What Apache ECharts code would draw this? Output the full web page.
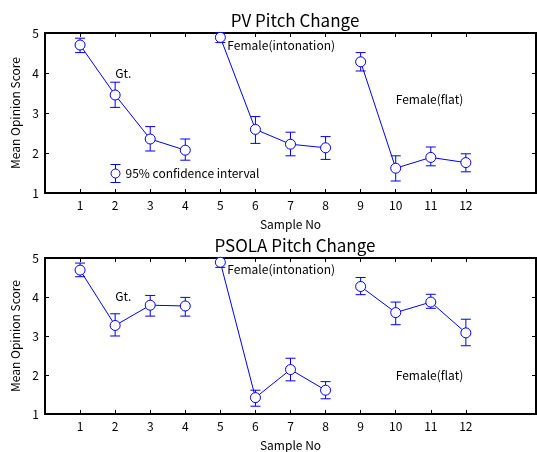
<!DOCTYPE html>
<html>
<head>
<meta charset="utf-8">
<script src="https://cdn.jsdelivr.net/npm/echarts@6/dist/echarts.min.js"></script>
<style>
  html, body { margin: 0; padding: 0; background: #fff; }
  #chart { width: 537px; height: 452px; }
</style>
</head>
<body>
<div id="chart"></div>
<script>
// x categories 0..14, only 1..12 are labelled
const categories = ['0', '1', '2', '3', '4', '5', '6', '7', '8', '9', '10', '11', '12', '13', '14']
const groups = [[1, 2, 3, 4], [5, 6, 7, 8], [9, 10, 11, 12]]

// PV Pitch Change
const pvMean = [4.70, 3.45, 2.35, 2.07, 4.89, 2.59, 2.22, 2.13, 4.28, 1.62, 1.89, 1.76]
const pvLow  = [4.51, 3.14, 2.05, 1.82, 4.76, 2.24, 1.93, 1.84, 4.05, 1.30, 1.68, 1.53]
const pvHigh = [4.87, 3.77, 2.66, 2.35, 5.00, 2.91, 2.52, 2.41, 4.51, 1.93, 2.15, 1.98]

// PSOLA Pitch Change
const psMean = [4.69, 3.27, 3.79, 3.77, 4.89, 1.42, 2.14, 1.61, 4.27, 3.60, 3.87, 3.08]
const psLow  = [4.52, 3.00, 3.51, 3.51, 4.76, 1.20, 1.85, 1.39, 4.06, 3.29, 3.71, 2.75]
const psHigh = [4.87, 3.57, 4.04, 3.99, 5.00, 1.61, 2.43, 1.83, 4.50, 3.87, 4.07, 3.43]

// annotations: [text, x, y]
const pvNotes = [['Gt.', 2, 4.0], ['Female(intonation)', 5.2, 4.7], ['Female(flat)', 10.0, 3.35]]
const psNotes = [['Gt.', 2, 4.02], ['Female(intonation)', 5.2, 4.7], ['Female(flat)', 10.0, 1.98]]

const titles = ['PV Pitch Change', 'PSOLA Pitch Change']
const ciName = '95% confidence interval'

const BLUE = '#0000ff'
const FONT = 'Noto Sans CJK JP'

const chart = echarts.init(document.getElementById('chart'), null, { renderer: 'canvas' })

const showIdx = (idx) => idx >= 1 && idx <= 12

const makeX = (gi, pos) => ({
  type: 'category',
  gridIndex: gi,
  position: pos,
  data: categories,
  boundaryGap: false,
  axisLine: { show: false },
  axisTick: { show: true, inside: true, length: 4, interval: (i) => showIdx(i), lineStyle: { color: '#000' } },
  axisLabel: {
    show: pos === 'bottom',
    interval: (i) => showIdx(i),
    color: '#000', fontSize: 12, fontFamily: FONT, margin: 6
  },
  splitLine: { show: false },
  name: pos === 'bottom' ? 'Sample No' : '',
  nameLocation: 'middle',
  nameGap: 25,
  nameTextStyle: { color: '#000', fontSize: 12, fontFamily: FONT }
})

// hidden value axis used to place free text at fractional x
const makeNoteX = (gi) => ({
  type: 'value', gridIndex: gi, min: 0, max: 14, show: false
})

const makeY = (gi, pos) => ({
  type: 'value',
  gridIndex: gi,
  position: pos,
  min: 1, max: 5, interval: 1,
  axisLine: { show: false },
  axisTick: { show: true, inside: true, length: 4, lineStyle: { color: '#000' } },
  axisLabel: { show: pos === 'left', color: '#000', fontSize: 12, fontFamily: FONT, margin: 6 },
  splitLine: { show: false },
  name: pos === 'left' ? 'Mean Opinion Score' : '',
  nameLocation: 'middle',
  nameGap: 16,
  nameTextStyle: { color: '#000', fontSize: 12, fontFamily: FONT }
})

const errorSeries = (gi, mean, low, high) => ({
  name: ciName,
  type: 'custom',
  xAxisIndex: gi * 2,
  yAxisIndex: gi * 2,
  itemStyle: { color: BLUE },
  data: mean.map((m, i) => [i + 1, low[i], high[i]]),
  renderItem: (params, api) => {
    const x = api.value(0)
    const lo = api.coord([x, api.value(1)])
    const hi = api.coord([x, api.value(2)])
    const w = 5
    const style = { stroke: BLUE, lineWidth: 1 }
    return {
      type: 'group',
      children: [
        { type: 'line', shape: { x1: lo[0], y1: lo[1], x2: hi[0], y2: hi[1] }, style },
        { type: 'line', shape: { x1: lo[0] - w, y1: lo[1], x2: lo[0] + w, y2: lo[1] }, style },
        { type: 'line', shape: { x1: hi[0] - w, y1: hi[1], x2: hi[0] + w, y2: hi[1] }, style }
      ]
    }
  },
  z: 2
})

const lineSeries = (gi, mean) => groups.map(g => ({
  type: 'line',
  xAxisIndex: gi * 2,
  yAxisIndex: gi * 2,
  data: g.map(x => [x, mean[x - 1]]),
  symbol: 'circle',
  symbolSize: 10,
  itemStyle: { color: '#fff', borderColor: BLUE, borderWidth: 1 },
  lineStyle: { color: BLUE, width: 1 },
  emphasis: { disabled: true },
  animation: false,
  z: 3
}))

const noteSeries = (gi, notes) => ({
  type: 'scatter',
  xAxisIndex: 4 + gi,
  yAxisIndex: gi * 2,
  symbolSize: 0,
  itemStyle: { opacity: 1 },
  data: notes.map(n => ({ value: [n[1], n[2]], label: { formatter: n[0] } })),
  label: {
    show: true, position: 'right', distance: 0,
    color: '#000', fontSize: 12, fontFamily: FONT, opacity: 1
  },
  silent: true,
  z: 4
})

const option = {
  animation: false,
  backgroundColor: '#fff',
  title: titles.map((t, i) => ({
    text: t,
    left: 290,
    textAlign: 'center',
    top: i === 0 ? 7 : 232,
    textStyle: { color: '#000', fontSize: 17, fontWeight: 'normal', fontFamily: FONT }
  })),
  legend: {
    data: [{
      name: ciName,
      icon: 'path://M0,0 H10 M0,18 H10 M5,0 V4.5 M5,13.5 V18 M9.5,9 A4.5,4.5 0 1,1 0.5,9 A4.5,4.5 0 1,1 9.5,9'
    }],
    left: 105,
    top: 159,
    itemWidth: 10,
    itemHeight: 18,
    itemStyle: { color: 'transparent', borderColor: BLUE, borderWidth: 1 },
    textStyle: { color: '#000', fontSize: 12, fontFamily: FONT },
    selectedMode: false
  },
  grid: [
    { left: 45, top: 33, width: 491, height: 160, show: true, borderColor: '#000', borderWidth: 2 },
    { left: 45, top: 258, width: 491, height: 160, show: true, borderColor: '#000', borderWidth: 2 }
  ],
  xAxis: [makeX(0, 'bottom'), makeX(0, 'top'), makeX(1, 'bottom'), makeX(1, 'top'), makeNoteX(0), makeNoteX(1)],
  yAxis: [makeY(0, 'left'), makeY(0, 'right'), makeY(1, 'left'), makeY(1, 'right')],
  series: [
    errorSeries(0, pvMean, pvLow, pvHigh),
    ...lineSeries(0, pvMean),
    noteSeries(0, pvNotes),
    errorSeries(1, psMean, psLow, psHigh),
    ...lineSeries(1, psMean),
    noteSeries(1, psNotes)
  ]
}

chart.setOption(option)
</script>
</body>
</html>
